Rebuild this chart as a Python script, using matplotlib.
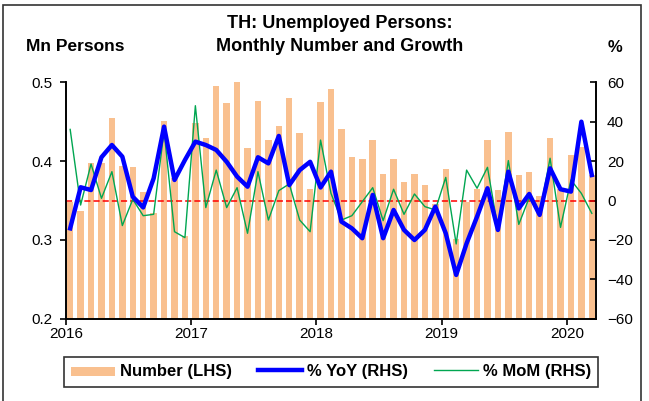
import numpy as np
import pandas as pd
import matplotlib
matplotlib.use("Agg")
import matplotlib.pyplot as plt
from matplotlib.patches import Rectangle

plt.rcParams["font.family"] = ["Liberation Sans", "DejaVu Sans"]

# Monthly data, Jan 2016 - Mar 2020
months = pd.date_range("2016-01-01", "2020-03-01", freq="MS")
number_mn = [
    0.348, 0.337, 0.397, 0.397, 0.454, 0.394, 0.392, 0.361, 0.334, 0.451, 0.378, 0.305,
    0.448, 0.429, 0.495, 0.473, 0.501, 0.416, 0.476, 0.426, 0.444, 0.480, 0.435, 0.365,
    0.475, 0.491, 0.440, 0.405, 0.403, 0.427, 0.384, 0.403, 0.373, 0.384, 0.370, 0.346,
    0.390, 0.301, 0.348, 0.365, 0.426, 0.363, 0.437, 0.382, 0.386, 0.356, 0.429, 0.364,
    0.407, 0.418, 0.382,
]
yoy_pct = [
    -14.1, 6.7, 5.3, 21.9, 28.1, 22.2, 1.9, -3.5, 11.2, 37.4, 10.4, 20.5,
    29.8, 28.1, 25.6, 19.6, 12.1, 7.0, 21.9, 18.8, 32.7, 7.8, 15.4, 19.6,
    6.6, 14.6, -10.7, -14.1, -19.1, 2.8, -19.1, -4.8, -14.9, -20.0, -14.9, -3.1,
    -16.6, -37.7, -21.7, -8.2, 6.2, -14.9, 14.6, -4.0, 3.3, -7.3, 16.3, 5.7,
    4.5, 39.9, 12.9,
]
mom_pct = [
    36.0, -2.3, 18.5, 1.1, 14.6, -12.7, 0.6, -7.7, -7.0, 35.2, -15.8, -18.8,
    48.0, -3.6, 15.4, -3.6, 6.5, -16.6, 14.6, -9.9, 5.0, 8.4, -9.9, -15.8,
    30.6, 3.6, -9.9, -7.7, -0.6, 6.5, -10.2, 5.7, -7.0, 3.3, -3.1, -4.8,
    11.7, -22.0, 15.4, 6.2, 16.8, -14.1, 20.2, -12.1, 1.4, -6.5, 21.4, -13.6,
    10.4, 3.6, -6.5,
]
years = ["2016", "2017", "2018", "2019", "2020"]

x = np.arange(len(months))

fig = plt.figure(figsize=(6.49, 4.01), dpi=100)
ax = fig.add_axes([0.1017, 0.2045, 0.8166, 0.591])
ax2 = ax.twinx()

bars = ax.bar(x, number_mn, width=0.62, color="#F9C08F", zorder=1,
              label="Number (LHS)")
ax.set_ylim(0.2, 0.5)
ax.set_yticks([0.2, 0.3, 0.4, 0.5])
ax.set_yticklabels(["0.2", "0.3", "0.4", "0.5"])
ax.set_xlim(-0.4, len(months) - 0.6)
ax.set_xticks([12 * i - 0.4 for i in range(len(years))])
ax.set_xticklabels(years)

ax2.axhline(0, color="red", lw=1.1, ls=(0, (4, 2)), zorder=2)
l1, = ax2.plot(x, yoy_pct, color="#0000FF", lw=3.2, zorder=4,
               label="% YoY (RHS)")
l2, = ax2.plot(x, mom_pct, color="#00A651", lw=1.0, zorder=3,
               label="% MoM (RHS)")
ax2.set_ylim(-60, 60)
ax2.set_yticks(range(-60, 61, 20))

for a in (ax, ax2):
    a.spines["top"].set_visible(False)
    for s in a.spines.values():
        s.set_linewidth(1.2)
ax.tick_params(axis="y", direction="out", length=4, width=1.2, labelsize=11, pad=6)
ax.tick_params(axis="x", direction="out", length=4, width=1.2, labelsize=11, pad=2)
ax2.tick_params(axis="y", direction="in", length=4, width=1.2, labelsize=11, pad=8)

fig.text(0.524, 0.942, "TH: Unemployed Persons:", ha="center", va="center",
         fontsize=13, fontweight="bold")
fig.text(0.524, 0.884, "Monthly Number and Growth", ha="center", va="center",
         fontsize=13, fontweight="bold")
fig.text(0.04, 0.884, "Mn Persons", ha="left", va="center",
         fontsize=12.5, fontweight="bold")
fig.text(0.936, 0.882, "%", ha="left", va="center",
         fontsize=12, fontweight="bold")

leg = fig.legend(handles=[bars, l1, l2], loc="center",
                 bbox_to_anchor=(0.51, 0.073), ncol=3, frameon=True,
                 fancybox=False, edgecolor="black",
                 prop={"weight": "bold", "size": 12}, handlelength=2.6,
                 columnspacing=1.6, handletextpad=0.3, borderpad=0.45)
leg.get_frame().set_linewidth(1.2)
for h in leg.legend_handles[:1]:
    h.set_height(7)

# outer frame around the chart
fig.patches.append(Rectangle((3 / 649, -0.05), 638 / 649, 1 - 5 / 401 + 0.05,
                             transform=fig.transFigure, fill=False,
                             edgecolor="#333333", lw=1.2))

fig.savefig("out.png", dpi=100)
